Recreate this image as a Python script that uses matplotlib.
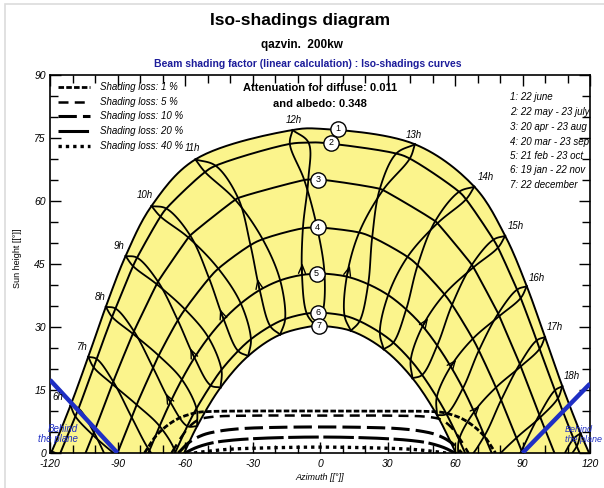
import numpy as np
import matplotlib.pyplot as plt
from matplotlib.patches import Rectangle

plt.rcParams['font.family'] = ['Liberation Sans', 'DejaVu Sans']
plt.rcParams['axes.unicode_minus'] = False

nan = np.nan

# legal hours of the hour lines
hours = list(range(5, 20))

# sun position (azimuth, height) at each legal hour, one list pair per date
jun_az = [-119.2, -110.9, -103.0, -95.2, -86.4, -74.9, -55.4, -12.2, 42.2, 68.6, 82.3, 91.9, 100.0, 107.7, 115.8]
jun_h = [0.4, 11.3, 22.9, 34.8, 46.9, 58.8, 69.9, 76.9, 73.5, 63.4, 51.7, 39.7, 27.6, 15.9, 4.7]
may_az = [-115.9, -107.3, -99.3, -90.9, -81.3, -68.3, -46.4, -5.1, 39.9, 64.9, 79.1, 89.2, 97.6, 105.7, 114.1]
may_h = [-0.6, 10.6, 22.4, 34.4, 46.5, 58.2, 68.4, 73.9, 70.1, 60.4, 48.9, 36.9, 24.8, 13.0, 1.6]
jul_az = [-117.4, -108.7, -100.6, -92.4, -83.1, -70.9, -51.1, -13.4, 33.9, 61.8, 77.1, 87.6, 96.3, 104.4, 112.7]
jul_h = [-2.4, 8.7, 20.4, 32.4, 44.5, 56.3, 66.9, 73.6, 71.3, 62.2, 50.8, 38.9, 26.8, 14.9, 3.4]
apr_az = [-109.5, -100.5, -91.9, -82.7, -72.0, -57.7, -36.4, -5.2, 28.0, 52.2, 68.2, 79.7, 89.2, 97.9, 106.7]
apr_h = [-6.7, 4.9, 17.0, 29.0, 40.8, 51.8, 60.7, 65.1, 62.6, 54.7, 44.2, 32.6, 20.6, 8.5, -3.3]
aug_az = [-110.0, -101.0, -92.3, -83.2, -72.6, -58.5, -37.7, -7.0, 26.6, 51.2, 67.5, 79.2, 88.8, 97.5, 106.3]
aug_h = [-7.3, 4.3, 16.4, 28.4, 40.2, 51.3, 60.3, 65.0, 62.9, 55.2, 44.8, 33.2, 21.2, 9.1, -2.7]
mar_az = [nan, -92.7, -83.7, -74.2, -63.2, -49.3, -30.9, -7.6, 17.4, 38.9, 55.3, 67.9, 78.2, 87.3, 96.3]
mar_h = [nan, -3.6, 8.5, 20.3, 31.6, 41.6, 49.5, 53.5, 52.5, 46.7, 37.8, 27.2, 15.6, 3.6, -8.5]
sep_az = [nan, -90.5, -81.5, -71.7, -60.0, -45.2, -25.5, -1.3, 23.2, 43.4, 58.7, 70.6, 80.5, 89.6, 98.6]
sep_h = [nan, -0.6, 11.5, 23.2, 34.2, 43.9, 50.9, 53.7, 51.4, 44.7, 35.3, 24.4, 12.6, 0.6, -11.5]
feb_az = [nan, -84.5, -75.8, -66.5, -55.8, -42.8, -26.8, -8.0, 11.9, 30.3, 45.6, 58.1, 68.5, 77.6, nan]
feb_h = [nan, -11.3, 0.6, 12.1, 22.7, 31.8, 38.8, 42.4, 42.0, 37.6, 30.2, 20.6, 9.8, -1.7, nan]
oct_az = [nan, -80.2, -71.3, -61.4, -49.6, -35.2, -17.7, 2.0, 21.4, 38.3, 52.1, 63.5, 73.1, 82.0, nan]
oct_h = [nan, -5.3, 6.4, 17.5, 27.5, 35.6, 41.1, 42.7, 40.2, 34.2, 25.6, 15.4, 4.1, -7.7, nan]
jan_az = [nan, nan, -68.0, -59.0, -48.6, -36.4, -22.1, -5.9, 10.9, 26.6, 40.3, 51.9, 61.8, 70.5, nan]
jan_h = [nan, nan, -4.5, 6.4, 16.1, 24.3, 30.2, 33.2, 32.7, 28.7, 22.1, 13.3, 3.2, -7.9, nan]
nov_az = [nan, -72.8, -64.3, -54.9, -43.8, -30.7, -15.5, 1.1, 17.6, 32.6, 45.4, 56.2, 65.5, nan, nan]
nov_h = [nan, -11.1, 0.2, 10.6, 19.8, 27.1, 31.9, 33.4, 31.4, 26.3, 18.6, 9.3, -1.3, nan, nan]
dec_az = [nan, nan, -63.7, -54.6, -44.2, -31.9, -17.7, -2.1, 13.7, 28.3, 41.1, 52.0, 61.4, nan, nan]
dec_h = [nan, nan, -4.0, 6.4, 15.6, 23.1, 28.2, 30.3, 29.1, 24.7, 17.8, 9.0, -1.1, nan, nan]

# sunrise/sunset azimuth and noon height of the 7 sun paths
rise_az = [119.6, 115.4, 104.2, 90.0, 76.3, 64.5, 60.4]
noon_h = [77.2, 73.9, 65.1, 53.7, 42.7, 33.4, 30.3]
path_ids = ['1', '2', '3', '4', '5', '6', '7']
badge_az = [8, 5, -1, -1, -1.5, -1, -0.5]
path_names = ['1: 22 june', '2: 22 may - 23 july', '3: 20 apr - 23 aug', '4: 20 mar - 23 sep',
              '5: 21 feb - 23 oct', '6: 19 jan - 22 nov', '7: 22 december']

# hours whose february strand carries a direction arrow
arrow_hours = [8, 9, 10, 11, 12, 13, 15, 16, 17]

# iso-shading curves
loss_names = ['Shading loss: 1 %', 'Shading loss: 5 %', 'Shading loss: 10 %',
              'Shading loss: 20 %', 'Shading loss: 40 %']
loss1_az = [-78, -73, -68, -63, -58, -54, -48, -30, 0, 30, 48, 54, 58, 63, 68, 73, 78]
loss1_h = [0, 4, 6.5, 8.2, 9.2, 9.7, 9.9, 10, 10, 10, 9.9, 9.7, 9.2, 8.2, 6.5, 4, 0]
loss5_az = [-66, -62, -58, -54, -48, -30, 0, 30, 48, 54, 58, 62, 66]
loss5_h = [0, 3.5, 6.3, 7.9, 8.6, 8.9, 8.9, 8.9, 8.6, 7.9, 6.3, 3.5, 0]
loss10_az = [-63, -58, -52, -45, -35, -20, 0, 20, 35, 45, 52, 58, 63]
loss10_h = [0, 2.6, 4.3, 5.2, 5.8, 6.1, 6.2, 6.1, 5.8, 5.2, 4.3, 2.6, 0]
loss20_az = [-60, -55, -48, -40, -30, -15, 0, 15, 30, 40, 48, 55, 60]
loss20_h = [0, 1.3, 2.4, 3.0, 3.4, 3.7, 3.8, 3.7, 3.4, 3.0, 2.4, 1.3, 0]
loss40_az = [-56, -50, -40, -25, 0, 25, 40, 50, 56]
loss40_h = [0, 0.4, 0.9, 1.2, 1.4, 1.2, 0.9, 0.4, 0]

# "behind the plane" limits
behind_left_az, behind_left_h = [-120, -90], [17.4, 0]
behind_right_az, behind_right_h = [90, 120], [0, 16.5]

strand_a = [(jun_az, jun_h), (may_az, may_h), (apr_az, apr_h), (mar_az, mar_h),
            (feb_az, feb_h), (jan_az, jan_h), (dec_az, dec_h)]
strand_b = [(jun_az, jun_h), (jul_az, jul_h), (aug_az, aug_h), (sep_az, sep_h),
            (oct_az, oct_h), (nov_az, nov_h), (dec_az, dec_h)]


def smooth(xs, ys, n=16, k=1.87):
    # centripetal Catmull-Rom through the points (height scaled to screen aspect)
    p = np.column_stack([np.asarray(xs, float), np.asarray(ys, float) * k])
    if len(p) < 3:
        return p[:, 0], p[:, 1] / k
    p = np.vstack([2 * p[0] - p[1], p, 2 * p[-1] - p[-2]])
    out = []
    for i in range(1, len(p) - 2):
        p0, p1, p2, p3 = p[i - 1], p[i], p[i + 1], p[i + 2]
        t0 = 0.0
        t1 = t0 + max(np.hypot(*(p1 - p0)) ** 0.5, 1e-6)
        t2 = t1 + max(np.hypot(*(p2 - p1)) ** 0.5, 1e-6)
        t3 = t2 + max(np.hypot(*(p3 - p2)) ** 0.5, 1e-6)
        t = np.linspace(t1, t2, n)[:, None]
        a1 = (t1 - t) / (t1 - t0) * p0 + (t - t0) / (t1 - t0) * p1
        a2 = (t2 - t) / (t2 - t1) * p1 + (t - t1) / (t2 - t1) * p2
        a3 = (t3 - t) / (t3 - t2) * p2 + (t - t2) / (t3 - t2) * p3
        b1 = (t2 - t) / (t2 - t0) * a1 + (t - t0) / (t2 - t0) * a2
        b2 = (t3 - t) / (t3 - t1) * a2 + (t - t1) / (t3 - t1) * a3
        c = (t2 - t) / (t2 - t1) * b1 + (t - t1) / (t2 - t1) * b2
        out.append(c if i == 1 else c[1:])
    c = np.vstack(out)
    return c[:, 0], c[:, 1] / k


fig = plt.figure(figsize=(6.04, 4.88), dpi=100)
# thin grey frame of the page
fig.add_artist(Rectangle((5 / 604, -0.1), 1.2, 1.1 - 4 / 488, transform=fig.transFigure,
                         fill=False, edgecolor='#dcdcdc', lw=1.2))
ax = fig.add_axes([50 / 604, 35 / 488, 540 / 604, 378 / 488])
ax.set_xlim(-120, 120)
ax.set_ylim(0, 90)

# sun paths
paths = []
for i in range(7):
    pts = {(-rise_az[i], 0.0), (rise_az[i], 0.0), (0.0, noon_h[i])}
    for az, h in (strand_a[i], strand_b[i]):
        for a, b in zip(az, h):
            if not np.isnan(a) and b > 0:
                pts.add((a, b))
    pts = sorted(pts)
    paths.append(smooth([p[0] for p in pts], [p[1] for p in pts]))

x1, y1 = paths[0]
x7, y7 = paths[6]
ax.fill(np.r_[x1, x7[::-1]], np.r_[y1, y7[::-1]], color='#fbf48c', lw=0, zorder=1)
for x, y in paths:
    ax.plot(x, y, color='black', lw=1.4, zorder=3)

# hour lines, one strand for each half of the year
for j in range(len(hours)):
    for strand in (strand_a, strand_b):
        xs = [az[j] for az, h in strand if not np.isnan(az[j])]
        ys = [h[j] for az, h in strand if not np.isnan(az[j])]
        x, y = smooth(xs, ys)
        ax.plot(x, y, color='black', lw=1.3, zorder=2)

# small arrowheads showing the course of the year on the first strand
for hr in arrow_hours:
    j = hours.index(hr)
    a0, h0 = feb_az[j], feb_h[j]
    a1, h1 = mar_az[j], mar_h[j]
    ax.annotate('', xy=(a0 + 0.25 * (a1 - a0), h0 + 0.25 * (h1 - h0)), xytext=(a0, h0),
                arrowprops=dict(arrowstyle='->,head_length=0.6,head_width=0.25', lw=1.0, color='black',
                                shrinkA=0, shrinkB=0, mutation_scale=10), zorder=3)

# hour labels at the 22 june end of each hour line
label_offsets = {6: (-9, 6), 7: (-4, 7), 8: (-4, 7), 9: (-5, 7), 10: (-5, 8), 11: (-2, 8), 12: (1, 7),
                 13: (-1, 7), 14: (8, 7), 15: (8, 7), 16: (7, 6), 17: (7, 7), 18: (7, 7)}
for j, hr in enumerate(hours):
    if hr in label_offsets:
        ax.annotate(f'{hr}h', (jun_az[j], jun_h[j]), xytext=label_offsets[hr], textcoords='offset points',
                    ha='center', va='center', fontsize=7, style='italic', zorder=6)

# path numbers
for i in range(7):
    ax.plot(badge_az[i], noon_h[i], 'o', ms=11, mfc='white', mec='black', mew=1.0, zorder=7)
    ax.text(badge_az[i], noon_h[i], path_ids[i], ha='center', va='center', fontsize=6.5, zorder=8)

# iso-shading curves
loss_curves = [(loss1_az, loss1_h), (loss5_az, loss5_h), (loss10_az, loss10_h),
               (loss20_az, loss20_h), (loss40_az, loss40_h)]
loss_styles = [((0, (2, 0.8)), 2.0), ((0, (4, 2.5)), 1.8), ((0, (6, 2)), 2.2),
               ((0, (10, 1.5)), 2.2), ((0, (1, 1.2)), 2.4)]
for (az, h), (ls, lw) in zip(loss_curves, loss_styles):
    x, y = smooth(az, h)
    ax.plot(x, y, color='black', ls=ls, lw=lw, zorder=4)

# iso-shading legend
legend_h = [87.1, 83.6, 80.2, 76.7, 73.1]
for name, yy, (ls, lw) in zip(loss_names, legend_h, loss_styles):
    ax.plot([-116.4, -102.2], [yy, yy], color='black', ls=ls, lw=lw, zorder=5)
    ax.text(-98, yy, name, fontsize=7, style='italic', va='center', ha='left', zorder=5)

# date legend
date_h = [84.8, 81.2, 77.6, 74.0, 70.7, 67.4, 63.8]
for name, yy in zip(path_names, date_h):
    ax.text(84.4, yy, name, fontsize=7, style='italic', va='center', ha='left', zorder=5)

# behind the plane
blue = '#1f2fc4'
ax.plot(behind_left_az, behind_left_h, color=blue, lw=3.2, zorder=5, solid_capstyle='butt')
ax.plot(behind_right_az, behind_right_h, color=blue, lw=3.2, zorder=5, solid_capstyle='butt')
ax.text(-107.5, 5.7, 'Behind', color=blue, fontsize=7, style='italic', ha='right', va='center', zorder=6)
ax.text(-107.5, 3.3, 'the plane', color=blue, fontsize=7, style='italic', ha='right', va='center',
        zorder=6, clip_on=False)
ax.text(108.8, 5.7, 'Behind', color=blue, fontsize=6.5, style='italic', ha='left', va='center', zorder=6,
        clip_on=False)
ax.text(108.8, 3.3, 'the plane', color=blue, fontsize=6.5, style='italic', ha='left', va='center',
        zorder=6, clip_on=False)

ax.text(0, 86.8, 'Attenuation for diffuse: 0.011', ha='center', va='center', fontsize=8, weight='bold')
ax.text(0, 83.2, 'and albedo: 0.348', ha='center', va='center', fontsize=8, weight='bold')

# axes
ax.set_xticks(np.arange(-120, 121, 30))
ax.set_xticks(np.arange(-120, 121, 10), minor=True)
ax.set_yticks(np.arange(0, 91, 15))
ax.set_yticks(np.arange(0, 91, 5), minor=True)
ax.tick_params(which='both', direction='in', top=True, right=True, width=1.0, labelsize=7.5)
ax.tick_params(which='major', length=8)
ax.tick_params(which='minor', length=6)
ax.tick_params(axis='x', which='major', pad=4)
ax.tick_params(axis='y', which='major', pad=3)
for lab in ax.get_xticklabels() + ax.get_yticklabels():
    lab.set_style('italic')
for s in ax.spines.values():
    s.set_linewidth(1.2)

fig.text(320 / 604, 1 - 478 / 488, 'Azimuth [[°]]', ha='center', va='center', fontsize=6.5, style='italic')
fig.text(18 / 604, 1 - 258 / 488, 'Sun height [[°]]', ha='center', va='center', fontsize=6.5, rotation=90)

fig.text(300 / 604, 1 - 20 / 488, 'Iso-shadings diagram', ha='center', va='center', fontsize=12.5,
         weight='bold')
fig.text(302 / 604, 1 - 45 / 488, 'qazvin.  200kw', ha='center', va='center', fontsize=8.5, weight='bold')
fig.text(308 / 604, 1 - 64 / 488, 'Beam shading factor (linear calculation) : Iso-shadings curves',
         ha='center', va='center', fontsize=7.5, color='#1c1c9a', weight='bold')

fig.savefig('out.png', dpi=100)
